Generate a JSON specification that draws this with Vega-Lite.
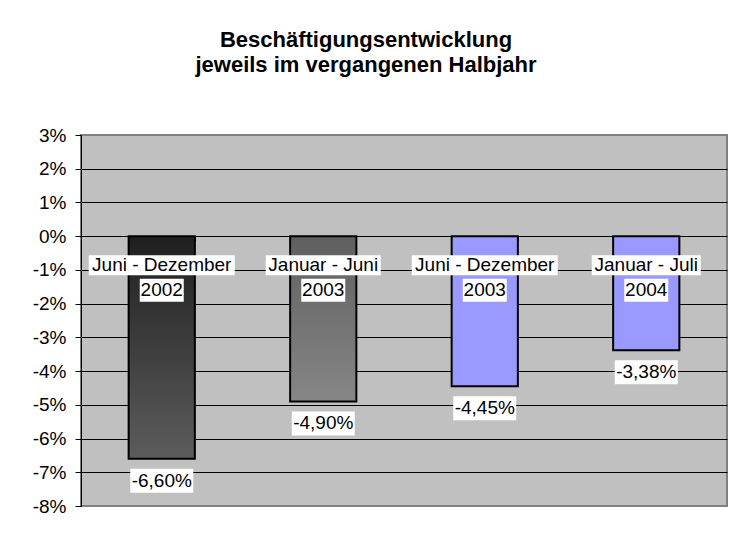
{
  "$schema": "https://vega.github.io/schema/vega-lite/v6.json",
  "width": 646,
  "height": 371,
  "autosize": {"type": "none"},
  "padding": {"left": 81, "top": 135, "right": 14, "bottom": 31},
  "background": "white",
  "title": {
    "text": ["Beschäftigungsentwicklung", "jeweils im vergangenen Halbjahr"],
    "font": "Liberation Sans",
    "fontSize": 22,
    "fontWeight": "bold",
    "color": "black",
    "anchor": "middle",
    "frame": "group",
    "dx": -38,
    "offset": 49,
    "lineHeight": 25
  },
  "data": {
    "values": [
      {"zeitraum": "Juni - Dezember 2002", "periode": "Juni - Dezember", "jahr": "2002", "wert": -0.066},
      {"zeitraum": "Januar - Juni 2003", "periode": "Januar - Juni", "jahr": "2003", "wert": -0.049},
      {"zeitraum": "Juni - Dezember 2003", "periode": "Juni - Dezember", "jahr": "2003", "wert": -0.0445},
      {"zeitraum": "Januar - Juli 2004", "periode": "Januar - Juli", "jahr": "2004", "wert": -0.0338}
    ]
  },
  "encoding": {
    "x": {
      "field": "zeitraum",
      "type": "nominal",
      "sort": null,
      "scale": {"paddingInner": 0.59, "paddingOuter": 0.295},
      "axis": {
        "title": null,
        "labels": false,
        "domain": false,
        "ticks": true,
        "tickBand": "extent",
        "tickSize": 5,
        "tickColor": "black",
        "tickWidth": 1,
        "grid": false,
        "offset": -270,
        "zindex": 1
      }
    }
  },
  "layer": [
    {
      "transform": [{"filter": "datum.zeitraum === 'Juni - Dezember 2002'"}],
      "mark": {
        "type": "bar",
        "stroke": "black",
        "strokeWidth": 2,
        "fill": {"gradient": "linear", "x1": 0, "y1": 0, "x2": 0, "y2": 1,
          "stops": [{"offset": 0, "color": "#1f1f1f"}, {"offset": 1, "color": "#5c5c5c"}]}
      },
      "encoding": {
        "y": {
          "field": "wert",
          "type": "quantitative",
          "title": null,
          "scale": {"domain": [-0.08, 0.03], "nice": false, "zero": false},
          "axis": {"values": [-0.08, -0.07, -0.06, -0.05, -0.04, -0.03, -0.02, -0.01, 0, 0.01, 0.02, 0.03], "format": ".0%", "title": null,
            "gridColor": {"condition": {"test": "datum.value > 0.029 || datum.value < -0.079", "value": "#808080"}, "value": "black"}}
        }
      }
    },
    {
      "transform": [{"filter": "datum.zeitraum === 'Januar - Juni 2003'"}],
      "mark": {
        "type": "bar",
        "stroke": "black",
        "strokeWidth": 2,
        "fill": {"gradient": "linear", "x1": 0, "y1": 0, "x2": 0, "y2": 1,
          "stops": [{"offset": 0, "color": "#5f5f5f"}, {"offset": 1, "color": "#868686"}]}
      },
      "encoding": {"y": {"field": "wert", "type": "quantitative", "title": null,
        "axis": {"values": [-0.08, -0.07, -0.06, -0.05, -0.04, -0.03, -0.02, -0.01, 0, 0.01, 0.02, 0.03], "format": ".0%", "title": null,
          "gridColor": {"condition": {"test": "datum.value > 0.029 || datum.value < -0.079", "value": "#808080"}, "value": "black"}}}}
    },
    {
      "transform": [{"filter": "datum.zeitraum === 'Juni - Dezember 2003' || datum.zeitraum === 'Januar - Juli 2004'"}],
      "mark": {"type": "bar", "stroke": "black", "strokeWidth": 2, "fill": "#9999FF"},
      "encoding": {"y": {"field": "wert", "type": "quantitative", "title": null,
        "axis": {"values": [-0.08, -0.07, -0.06, -0.05, -0.04, -0.03, -0.02, -0.01, 0, 0.01, 0.02, 0.03], "format": ".0%", "title": null,
          "gridColor": {"condition": {"test": "datum.value > 0.029 || datum.value < -0.079", "value": "#808080"}, "value": "black"}}}}
    },
    {
      "mark": {"type": "point", "filled": true, "fill": "white", "opacity": 1, "strokeWidth": 0, "size": 40000, "yOffset": 29},
      "encoding": {
        "y": {"datum": 0, "type": "quantitative", "title": null,
          "axis": {"values": [-0.08, -0.07, -0.06, -0.05, -0.04, -0.03, -0.02, -0.01, 0, 0.01, 0.02, 0.03], "format": ".0%", "title": null,
            "gridColor": {"condition": {"test": "datum.value > 0.029 || datum.value < -0.079", "value": "#808080"}, "value": "black"}}},
        "shape": {
          "field": "periode",
          "type": "nominal",
          "legend": null,
          "scale": {
            "domain": ["Juni - Dezember", "Januar - Juni", "Januar - Juli"],
            "range": ["M-0.73,-0.1H0.73V0.1H-0.73Z", "M-0.575,-0.1H0.575V0.1H-0.575Z", "M-0.545,-0.1H0.545V0.1H-0.545Z"]
          }
        }
      }
    },
    {
      "mark": {"type": "point", "filled": true, "fill": "white", "opacity": 1, "strokeWidth": 0, "size": 40000, "yOffset": 54, "shape": "M-0.22,-0.115H0.22V0.115H-0.22Z"},
      "encoding": {"y": {"datum": 0, "type": "quantitative", "title": null,
        "axis": {"values": [-0.08, -0.07, -0.06, -0.05, -0.04, -0.03, -0.02, -0.01, 0, 0.01, 0.02, 0.03], "format": ".0%", "title": null,
          "gridColor": {"condition": {"test": "datum.value > 0.029 || datum.value < -0.079", "value": "#808080"}, "value": "black"}}}}
    },
    {
      "mark": {"type": "point", "filled": true, "fill": "white", "opacity": 1, "strokeWidth": 0, "size": 40000, "yOffset": 22, "shape": "M-0.315,-0.12H0.315V0.12H-0.315Z"},
      "encoding": {"y": {"field": "wert", "type": "quantitative", "title": null,
        "axis": {"values": [-0.08, -0.07, -0.06, -0.05, -0.04, -0.03, -0.02, -0.01, 0, 0.01, 0.02, 0.03], "format": ".0%", "title": null,
          "gridColor": {"condition": {"test": "datum.value > 0.029 || datum.value < -0.079", "value": "#808080"}, "value": "black"}}}}
    },
    {
      "mark": {"type": "text", "font": "Liberation Sans", "fontSize": 19, "color": "black", "baseline": "middle", "align": "center", "yOffset": 28.5},
      "encoding": {"y": {"datum": 0, "type": "quantitative", "title": null,
        "axis": {"values": [-0.08, -0.07, -0.06, -0.05, -0.04, -0.03, -0.02, -0.01, 0, 0.01, 0.02, 0.03], "format": ".0%", "title": null,
          "gridColor": {"condition": {"test": "datum.value > 0.029 || datum.value < -0.079", "value": "#808080"}, "value": "black"}}},
        "text": {"field": "periode"}}
    },
    {
      "mark": {"type": "text", "font": "Liberation Sans", "fontSize": 19, "color": "black", "baseline": "middle", "align": "center", "yOffset": 54},
      "encoding": {"y": {"datum": 0, "type": "quantitative", "title": null,
        "axis": {"values": [-0.08, -0.07, -0.06, -0.05, -0.04, -0.03, -0.02, -0.01, 0, 0.01, 0.02, 0.03], "format": ".0%", "title": null,
          "gridColor": {"condition": {"test": "datum.value > 0.029 || datum.value < -0.079", "value": "#808080"}, "value": "black"}}},
        "text": {"field": "jahr"}}
    },
    {
      "mark": {"type": "text", "font": "Liberation Sans", "fontSize": 19, "color": "black", "baseline": "middle", "align": "center", "yOffset": 22},
      "encoding": {
        "y": {"field": "wert", "type": "quantitative", "title": null,
          "axis": {"values": [-0.08, -0.07, -0.06, -0.05, -0.04, -0.03, -0.02, -0.01, 0, 0.01, 0.02, 0.03], "format": ".0%", "title": null,
            "gridColor": {"condition": {"test": "datum.value > 0.029 || datum.value < -0.079", "value": "#808080"}, "value": "black"}}},
        "text": {"field": "wert", "type": "quantitative", "format": ".2%"}
      }
    }
  ],
  "config": {
    "locale": {"number": {"decimal": ",", "thousands": ".", "grouping": [3], "currency": ["", " €"], "minus": "-"}},
    "view": {"fill": "#C0C0C0", "stroke": "#808080", "strokeWidth": 2},
    "font": "Liberation Sans",
    "axisY": {
      "labelFont": "Liberation Sans",
      "labelFontSize": 19,
      "labelColor": "black",
      "labelPadding": 9,
      "labelBaseline": "middle",
      "labelOverlap": false,
      "tickColor": "black",
      "tickSize": 6,
      "domainColor": "black",
      "domainWidth": 1,
      "grid": true,
      "gridWidth": 1,
      "gridOpacity": 1
    }
  }
}
